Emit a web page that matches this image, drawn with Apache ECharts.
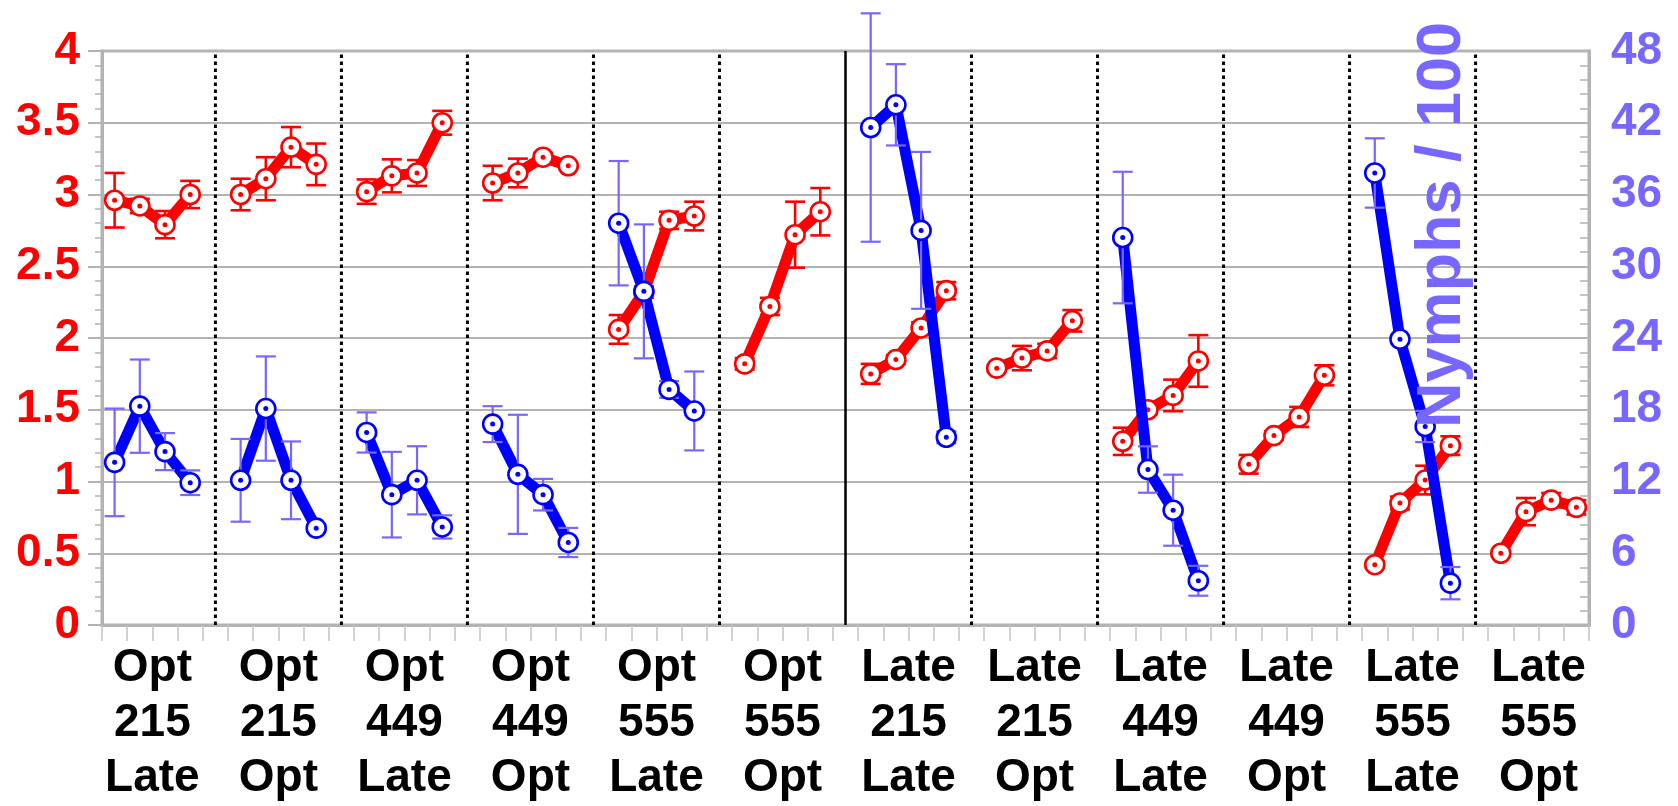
<!DOCTYPE html>
<html>
<head>
<meta charset="utf-8">
<script src="https://cdn.jsdelivr.net/npm/echarts@6/dist/echarts.min.js"></script>
<style>
html,body{margin:0;padding:0;background:#fff;}
#chart{width:1678px;height:806px;}
</style>
</head>
<body>
<div id="chart"></div>
<script>
const groupLabels = ['Opt\n215\nLate','Opt\n215\nOpt','Opt\n449\nLate','Opt\n449\nOpt','Opt\n555\nLate','Opt\n555\nOpt',
  'Late\n215\nLate','Late\n215\nOpt','Late\n449\nLate','Late\n449\nOpt','Late\n555\nLate','Late\n555\nOpt'];

// Red series (left axis), 4 points per group
const redMean = [
  2.96, 2.92, 2.79, 3.00,
  3.00, 3.11, 3.33, 3.21,
  3.02, 3.13, 3.15, 3.50,
  3.08, 3.15, 3.26, 3.20,
  2.06, 2.32, 2.82, 2.85,
  1.82, 2.22, 2.72, 2.88,
  1.75, 1.85, 2.07, 2.33,
  1.79, 1.86, 1.91, 2.12,
  1.28, 1.50, 1.60, 1.84,
  1.12, 1.32, 1.45, 1.74,
  0.42, 0.85, 1.01, 1.25,
  0.50, 0.79, 0.87, 0.82
];
const redErr = [
  0.19, 0.05, 0.095, 0.095,
  0.11, 0.15, 0.14, 0.145,
  0.085, 0.115, 0.09, 0.083,
  0.12, 0.10, 0.03, 0.02,
  0.10, 0.04, 0.06, 0.10,
  0.04, 0.06, 0.23, 0.165,
  0.07, 0.03, 0.04, 0.06,
  0.02, 0.085, 0.05, 0.075,
  0.095, 0.03, 0.11, 0.18,
  0.065, 0.03, 0.07, 0.07,
  0.02, 0.045, 0.10, 0.065,
  0.02, 0.095, 0.05, 0.05
];
// Blue series (right axis, Nymphs / 100)
const blueMean = [
  13.6, 18.3, 14.5, 11.9,
  12.1, 18.1, 12.1, 8.1,
  16.1, 10.9, 12.1, 8.2,
  16.8, 12.6, 10.9, 6.9,
  33.6, 27.9, 19.7, 17.9,
  null, null, null, null,
  41.6, 43.5, 33.0, 15.7,
  null, null, null, null,
  32.4, 13.0, 9.6, 3.7,
  null, null, null, null,
  37.8, 23.9, 16.6, 3.5,
  null, null, null, null
];
const blueErr = [
  4.5, 3.9, 1.55, 1.03,
  3.46, 4.36, 3.25, 0.3,
  1.68, 3.58, 2.85, 0.97,
  1.5, 4.98, 1.32, 1.22,
  5.2, 5.6, 0.7, 3.3,
  null, null, null, null,
  9.55, 3.4, 6.56, 0.5,
  null, null, null, null,
  5.5, 1.94, 2.97, 1.25,
  null, null, null, null,
  2.9, 0.3, 1.3, 1.35,
  null, null, null, null
];
const leftTicks = {min: 0, max: 4, interval: 0.5};
const rightTicks = {min: 0, max: 48, interval: 6};
const rightAxisName = 'Nymphs / 100';

const RED = '#ff0000', BLUE = '#0000ff', LBLUE = '#7766ff', GRAY = '#b3b3b3';
const FONT = '"Liberation Sans", Arial, sans-serif';
const PER = 4, STEP = 5;
const nG = groupLabels.length;
const xMax = nG * STEP - 1;

function xPos(i) { const g = Math.floor(i / PER); return g * STEP + 0.5 + (i % PER); }

function lineData(vals) {
  const out = [];
  for (let i = 0; i < vals.length; i++) {
    out.push([xPos(i), vals[i] == null ? '-' : vals[i]]);
    if (i % PER === PER - 1) out.push([xPos(i) + 1, '-']);
  }
  return out;
}
function dotData(vals) {
  const out = [];
  vals.forEach((v, i) => { if (v != null) out.push([xPos(i), v]); });
  return out;
}
function errData(vals, errs) {
  const out = [];
  vals.forEach((v, i) => { if (v != null) out.push([xPos(i), v - errs[i], v + errs[i]]); });
  return out;
}
function errRender(color, lw) {
  return function (params, api) {
    const x = api.value(0);
    const a = api.coord([x, api.value(1)]);
    const b = api.coord([x, api.value(2)]);
    const w = 10;
    const st = {stroke: color, lineWidth: lw};
    return {type: 'group', children: [
      {type: 'line', shape: {x1: a[0], y1: a[1], x2: b[0], y2: b[1]}, style: st},
      {type: 'line', shape: {x1: a[0] - w, y1: a[1], x2: a[0] + w, y2: a[1]}, style: st},
      {type: 'line', shape: {x1: b[0] - w, y1: b[1], x2: b[0] + w, y2: b[1]}, style: st}
    ]};
  };
}
const sepData = [];
for (let g = 0; g < nG - 1; g++) sepData.push([g * STEP + 4.5, g === nG / 2 - 1 ? 1 : 0]);

const chart = echarts.init(document.getElementById('chart'));
chart.setOption({
  animation: false,
  grid: {left: 102, right: 89, top: 51, bottom: 179, show: true, borderColor: GRAY, borderWidth: 3},
  xAxis: {
    type: 'value', min: 0, max: xMax, interval: 1,
    axisLine: {show: true, lineStyle: {color: GRAY, width: 3}},
    axisTick: {show: true, length: 16, lineStyle: {color: '#c4c4c4', width: 1.5}},
    splitLine: {show: false},
    axisLabel: {
      margin: 16, color: '#000', fontSize: 46, fontWeight: 'bold', fontFamily: FONT, lineHeight: 55,
      showMinLabel: true, showMaxLabel: true,
      formatter: function (v) {
        const r = Math.round(v);
        if ((r - 2) % STEP === 0) { const g = (r - 2) / STEP; if (g >= 0 && g < nG) return groupLabels[g]; }
        return '';
      }
    }
  },
  yAxis: [{
    type: 'value', min: leftTicks.min, max: leftTicks.max, interval: leftTicks.interval, position: 'left',
    axisLine: {show: true, lineStyle: {color: GRAY, width: 3}},
    axisTick: {show: true, length: 14, lineStyle: {color: GRAY, width: 2}},
    minorTick: {show: true, splitNumber: 5, length: 7, lineStyle: {color: GRAY, width: 1.5}},
    splitLine: {show: true, lineStyle: {color: GRAY, width: 2}},
    axisLabel: {margin: 22, color: RED, fontSize: 46, fontWeight: 'bold', fontFamily: FONT}
  }, {
    type: 'value', min: rightTicks.min, max: rightTicks.max, interval: rightTicks.interval, position: 'right',
    axisLine: {show: true, lineStyle: {color: GRAY, width: 3}},
    axisTick: {show: true, inside: true, length: 9, lineStyle: {color: GRAY, width: 2}},
    minorTick: {show: true, splitNumber: 5, length: 9, lineStyle: {color: GRAY, width: 1.5}},
    splitLine: {show: false},
    axisLabel: {margin: 22, color: LBLUE, fontSize: 46, fontWeight: 'bold', fontFamily: FONT}
  }],
  graphic: [{
    type: 'text', x: 1443, y: 225, rotation: Math.PI / 2, z: 100,
    style: {text: rightAxisName, fill: LBLUE, font: 'bold 63px ' + FONT, align: 'center', verticalAlign: 'middle'}
  }],
  series: [
    {
      type: 'custom', coordinateSystem: 'cartesian2d', z: 1, clip: false, silent: true,
      data: sepData, encode: {x: 0, y: 1},
      renderItem: function (params, api) {
        const x = api.value(0);
        const solid = api.value(1) === 1;
        const a = api.coord([x, leftTicks.min]);
        const b = api.coord([x, leftTicks.max]);
        return {type: 'line', shape: {x1: a[0], y1: a[1], x2: b[0], y2: b[1]},
          style: {stroke: '#000', lineWidth: solid ? 2.5 : 3, lineDash: solid ? null : [3.5, 3.5]}};
      }
    },
    {type: 'line', yAxisIndex: 0, z: 3, data: lineData(redMean), connectNulls: false, showSymbol: false, symbol: 'none',
      lineStyle: {color: RED, width: 11}},
    {type: 'custom', coordinateSystem: 'cartesian2d', yAxisIndex: 0, z: 4, clip: false, silent: true,
      data: errData(redMean, redErr), encode: {x: 0, y: [1, 2]}, renderItem: errRender(RED, 2.6)},
    {type: 'scatter', yAxisIndex: 0, z: 5, data: dotData(redMean), symbol: 'circle', symbolSize: 19,
      itemStyle: {color: '#fff', borderColor: RED, borderWidth: 2.6, opacity: 1}},
    {type: 'scatter', yAxisIndex: 0, z: 6, data: dotData(redMean), symbolSize: 5, itemStyle: {color: RED, opacity: 1}},
    {type: 'line', yAxisIndex: 1, z: 7, data: lineData(blueMean), connectNulls: false, showSymbol: false, symbol: 'none',
      lineStyle: {color: BLUE, width: 11}},
    {type: 'custom', coordinateSystem: 'cartesian2d', yAxisIndex: 1, z: 8, clip: false, silent: true,
      data: errData(blueMean, blueErr), encode: {x: 0, y: [1, 2]}, renderItem: errRender(LBLUE, 2.2)},
    {type: 'scatter', yAxisIndex: 1, z: 9, data: dotData(blueMean), symbol: 'circle', symbolSize: 19,
      itemStyle: {color: '#fff', borderColor: BLUE, borderWidth: 2.6, opacity: 1}},
    {type: 'scatter', yAxisIndex: 1, z: 10, data: dotData(blueMean), symbolSize: 5, itemStyle: {color: BLUE, opacity: 1}}
  ]
});
</script>
</body>
</html>
